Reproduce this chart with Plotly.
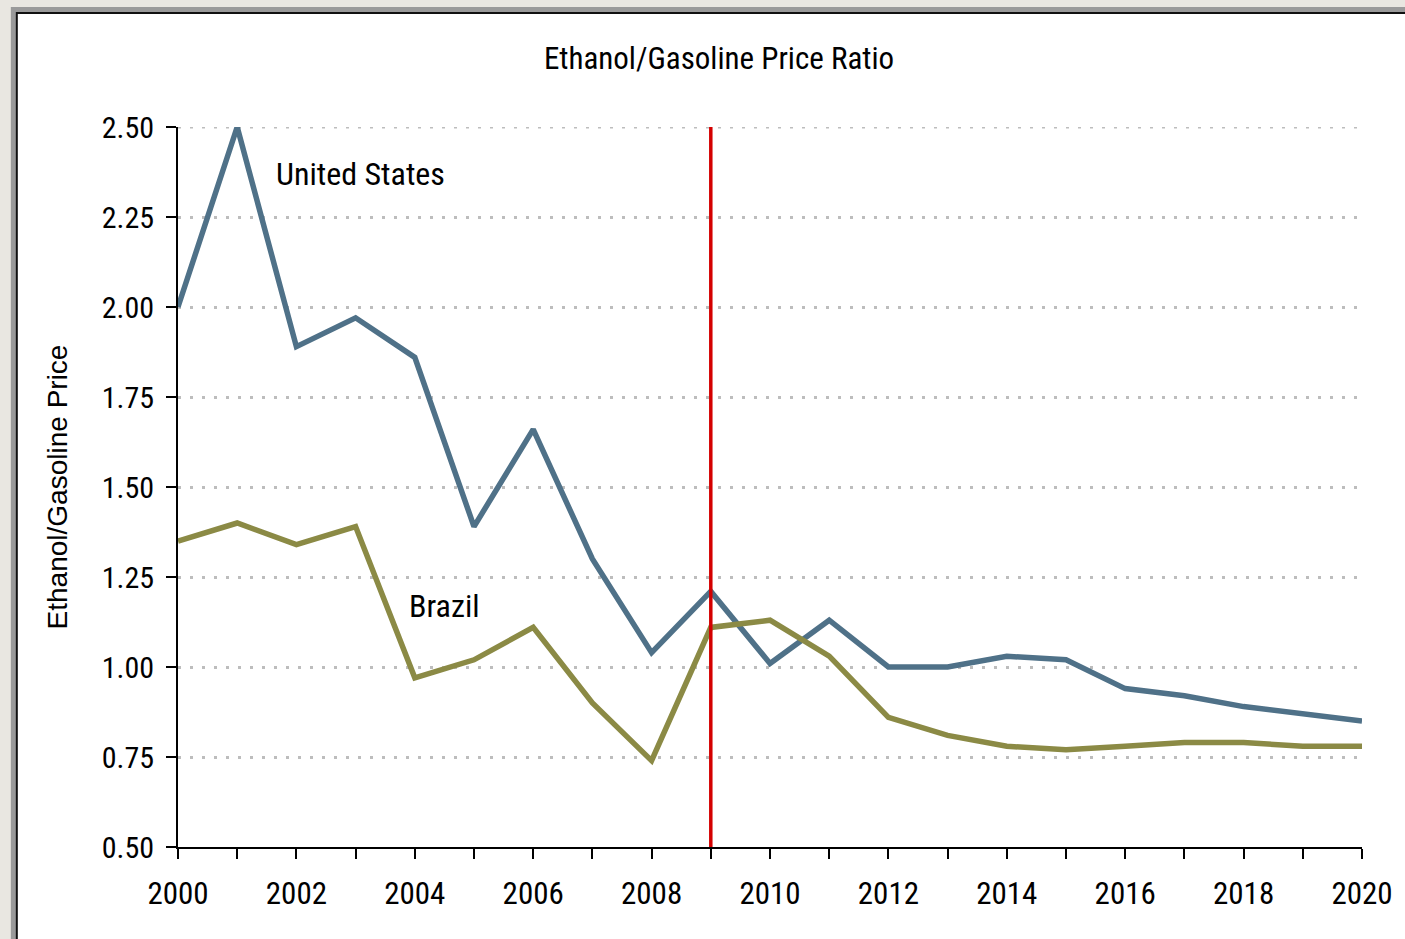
import plotly.graph_objects as go

years = list(range(2000, 2021))
us_ratio = [2.00, 2.50, 1.89, 1.97, 1.86, 1.39, 1.66, 1.30, 1.04, 1.21, 1.01,
            1.13, 1.00, 1.00, 1.03, 1.02, 0.94, 0.92, 0.89, 0.87, 0.85]
brazil_ratio = [1.35, 1.40, 1.34, 1.39, 0.97, 1.02, 1.11, 0.90, 0.74, 1.11, 1.13,
                1.03, 0.86, 0.81, 0.78, 0.77, 0.78, 0.79, 0.79, 0.78, 0.78]
y_ticks = [0.50, 0.75, 1.00, 1.25, 1.50, 1.75, 2.00, 2.25, 2.50]
x_ticks = list(range(2000, 2021, 2))
marker_year = 2009

W, H = 1405, 939
L, R, T, B = 178, 37, 127, 92
PW, PH = W - L - R, H - T - B


def px(x):
    return (x - L) / PW


def py(y):
    return (H - B - y) / PH


NARROW = "Liberation Sans Narrow, Arial Narrow, Roboto Condensed, Liberation Sans, Arial, sans-serif"
REG = "Liberation Sans, Arial, sans-serif"

fig = go.Figure()
fig.add_trace(go.Scatter(x=years, y=us_ratio, mode="lines", name="United States",
                         line=dict(color="#4f7188", width=5.5), cliponaxis=False))
fig.add_trace(go.Scatter(x=years, y=brazil_ratio, mode="lines", name="Brazil",
                         line=dict(color="#8b8a45", width=5.5), cliponaxis=False))

shapes = [
    dict(type="rect", xref="paper", yref="paper", x0=px(10), x1=px(1450), y0=py(7), y1=py(980),
         fillcolor="#9a9a9a", line=dict(width=0), layer="below"),
    dict(type="rect", xref="paper", yref="paper", x0=px(15), x1=px(1450), y0=py(12), y1=py(980),
         fillcolor="#111111", line=dict(width=0), layer="below"),
    dict(type="rect", xref="paper", yref="paper", x0=px(17), x1=px(1450), y0=py(14), y1=py(980),
         fillcolor="white", line=dict(width=0), layer="below"),
    # top gridline (plotly omits the gridline at the range edge)
    dict(type="line", xref="x", yref="y", x0=years[0], x1=years[-1], y0=y_ticks[-1], y1=y_ticks[-1],
         line=dict(color="#bdbdbd", width=3, dash="3px,9px"), layer="below"),
    dict(type="line", xref="x", yref="y", x0=marker_year, x1=marker_year, y0=y_ticks[0], y1=y_ticks[-1],
         line=dict(color="#d40000", width=3.5), layer="above"),
]

fig.update_layout(
    width=W, height=H,
    margin=dict(l=L, r=R, t=T, b=B),
    paper_bgcolor="#e9e7e1",
    plot_bgcolor="rgba(0,0,0,0)",
    showlegend=False,
    shapes=shapes,
    title=dict(text="Ethanol/Gasoline Price Ratio", x=719 / W, xanchor="center",
               y=1 - 58 / H, yanchor="middle",
               font=dict(family=NARROW, size=31, color="black")),
    xaxis=dict(range=[2000, 2020], tickmode="array", tickvals=x_ticks,
               ticktext=[str(v) for v in x_ticks],
               showgrid=False, zeroline=False, showline=True, linecolor="black", linewidth=2,
               ticks="outside", ticklen=10, tickwidth=2, tickcolor="black",
               minor=dict(dtick=1, ticks="outside", ticklen=10, tickwidth=2, tickcolor="black"),
               ticklabelstandoff=8,
               tickfont=dict(family=NARROW, size=31, color="black")),
    yaxis=dict(range=[0.5, 2.5], tickmode="array", tickvals=y_ticks,
               ticktext=[f"{v:.2f}" for v in y_ticks],
               showgrid=True, gridcolor="#bdbdbd", griddash="3px,9px", gridwidth=3,
               zeroline=False, showline=True, linecolor="black", linewidth=2,
               ticks="outside", ticklen=10, tickwidth=2, tickcolor="black",
               ticklabelstandoff=6,
               tickfont=dict(family=NARROW, size=30, color="black"),
               title=dict(text="Ethanol/Gasoline Price", standoff=26,
                          font=dict(family=REG, size=28, color="black"))),
    annotations=[
        dict(x=2001.62, y=2.37, xref="x", yref="y", text="United States", showarrow=False,
             xanchor="left", yanchor="middle", font=dict(family=NARROW, size=32, color="black")),
        dict(x=2003.86, y=1.17, xref="x", yref="y", text="Brazil", showarrow=False,
             xanchor="left", yanchor="middle", font=dict(family=NARROW, size=32, color="black")),
    ],
)

fig.write_html("out.html", config={"displayModeBar": False},
               post_script="document.body.style.margin='0';document.body.style.overflow='hidden';")
